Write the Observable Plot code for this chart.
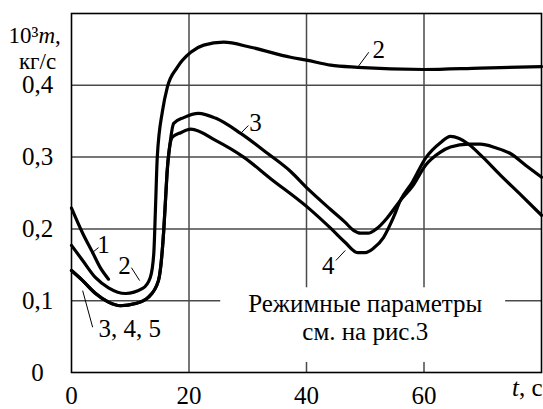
<!DOCTYPE html>
<html>
<head>
<meta charset="utf-8">
<script src="https://cdn.jsdelivr.net/npm/d3@7"></script>
<script src="https://cdn.jsdelivr.net/npm/@observablehq/plot@0.6"></script>
<style>
  html, body { margin: 0; padding: 0; background: #fff; }
  #chart svg { display: block; }
  #chart svg text { font-family: "Liberation Serif", "DejaVu Serif", serif !important; }
</style>
</head>
<body>
<div id="chart"></div>
<script>
// ---- data (t, s  ->  10^3 m, кг/с) ----
const curve1T = [0, 1.9, 3.6, 4.9, 6.3];
const curve1M = [0.229, 0.194, 0.167, 0.146, 0.130];

const curve2T = [0, 1.9, 4.1, 6.3, 9.2, 12.1, 13.4, 14.0, 14.3, 14.6, 15.5, 16.3, 18.0, 20.3, 22.5, 25.9, 30.5, 37.3, 40, 44.1, 48.7, 60, 69.6, 80];
const curve2M = [0.177, 0.156, 0.132, 0.118, 0.110, 0.117, 0.132, 0.165, 0.230, 0.300, 0.365, 0.397, 0.425, 0.446, 0.456, 0.460, 0.453, 0.439, 0.435, 0.428, 0.425, 0.422, 0.424, 0.426];

// common start of curves 3, 4, 5
const sharedT = [0, 1.9, 4.1, 6.3, 8.3, 10.9, 13.1, 14.8, 15.7, 16.0, 16.3, 16.7];
const sharedM = [0.142, 0.128, 0.110, 0.098, 0.093, 0.096, 0.105, 0.128, 0.198, 0.240, 0.282, 0.314];

const curve3T = [17.4, 19.1, 21.6, 24.6, 28.8, 33.4, 37.3, 40.2, 44.1, 46.6, 48.0, 49.2, 50.5, 51.9, 53.8, 56.0, 58.0, 60.3, 62.8, 64.5, 67.6, 69.6, 72.2, 74.7, 77.4, 80];
const curve3M = [0.347, 0.355, 0.361, 0.354, 0.333, 0.305, 0.280, 0.256, 0.227, 0.209, 0.198, 0.194, 0.194, 0.200, 0.216, 0.240, 0.259, 0.289, 0.307, 0.314, 0.318, 0.318, 0.313, 0.305, 0.288, 0.272];

const curve4T = [17.2, 18.6, 20.3, 24.6, 29.3, 33.9, 40.2, 44.1, 46.6, 48.7, 50.0, 51.4, 53.1, 54.8, 56.0, 58.0, 60.3, 62.8, 64.5, 66.0, 67.6, 70.0, 73.0, 76.4, 80];
const curve4M = [0.328, 0.334, 0.339, 0.323, 0.300, 0.270, 0.230, 0.201, 0.181, 0.167, 0.167, 0.173, 0.188, 0.216, 0.240, 0.265, 0.299, 0.320, 0.329, 0.326, 0.318, 0.300, 0.275, 0.248, 0.219];

const xTicks = [0, 20, 40, 60];
const yTicks = [0, 0.1, 0.2, 0.3, 0.4];
const yTickLabels = ["0", "0,1", "0,2", "0,3", "0,4"];
const xGrid = [20, 40, 60];
const yGrid = [0.1, 0.2, 0.3, 0.4];

// curve labels: text, anchor point, leader line
const labelText = ["1", "2", "2", "3", "4", "3, 4, 5"];
const labelT = [5.45, 9.0, 52.3, 31.3, 43.7, 9.9];
const labelM = [0.177, 0.148, 0.449, 0.348, 0.149, 0.060];
const leaderT1 = [3.4, 10.2, 48.7, 28.8, 45.0, 1.9];
const leaderM1 = [0.166, 0.146, 0.425, 0.333, 0.156, 0.114];
const leaderT2 = [4.6, 11.6, 50.6, 30.1, 46.6, 3.6];
const leaderM2 = [0.174, 0.128, 0.446, 0.344, 0.170, 0.063];

const noteText = "Режимные параметры\nсм. на рис.3";
const noteT = 50, noteM = 0.077;
const noteBox = {x1: 25.4, x2: 73.9, y1: 0.014, y2: 0.118};

const xLabel = "t, с";
const yLabel1 = "10³m,";
const yLabel2 = "кг/с";

// ---- build tables ----
const rows = [];
const add = (name, T, M) => T.forEach((t, i) => rows.push({series: name, t, m: M[i]}));
add("1", curve1T, curve1M);
add("2", curve2T, curve2M);
add("3", sharedT.concat(curve3T), sharedM.concat(curve3M));
add("4", sharedT.concat(curve4T), sharedM.concat(curve4M));

const labels = labelText.map((s, i) => ({s, t: labelT[i], m: labelM[i]}));
const leaders = labelText.map((s, i) => ({t1: leaderT1[i], m1: leaderM1[i], t2: leaderT2[i], m2: leaderM2[i]}));

const FONT = "Liberation Serif";
const gridColor = "#4a4a4a";

const chart = Plot.plot({
  width: 543,
  height: 409,
  marginLeft: 71,
  marginRight: 2,
  marginTop: 13,
  marginBottom: 37,
  style: {fontSize: "25px", background: "#fff", color: "#000", overflow: "visible"},
  x: {domain: [0, 80]},
  y: {domain: [0, 0.5]},
  marks: [
    Plot.gridX(xGrid, {stroke: gridColor, strokeOpacity: 1, strokeWidth: 1.5}),
    Plot.gridY(yGrid, {stroke: gridColor, strokeOpacity: 1, strokeWidth: 1.5}),
    Plot.rect([noteBox], {x1: "x1", x2: "x2", y1: "y1", y2: "y2", fill: "#fff"}),
    Plot.frame({stroke: "#000", strokeWidth: 1.6}),
    Plot.line(rows, {x: "t", y: "m", z: "series", curve: "monotone-x", stroke: "#000", strokeWidth: 3.2, strokeLinejoin: "round", strokeLinecap: "round"}),
    Plot.link(leaders, {x1: "t1", y1: "m1", x2: "t2", y2: "m2", stroke: "#000", strokeWidth: 1}),
    Plot.text(labels, {x: "t", y: "m", text: "s", fontSize: 25, fontFamily: FONT, fill: "#000"}),
    Plot.text([noteText], {x: noteT, y: noteM, text: d => d, fontSize: 25, fontFamily: FONT, lineHeight: 1.12, fill: "#000"}),
    Plot.axisX(xTicks, {tickSize: 0, tickPadding: 14, fontSize: 25, fontFamily: FONT, tickFormat: d => String(d)}),
    Plot.axisY(yTicks, {tickSize: 0, tickPadding: 34, textAnchor: "middle", fontSize: 25, fontFamily: FONT, tickFormat: (d, i) => yTickLabels[i]}),
    Plot.text([xLabel], {frameAnchor: "bottom-right", dx: 1, dy: 23, textAnchor: "end", fontSize: 25, fontFamily: FONT, className: "xlab"}),
    Plot.text([yLabel1], {frameAnchor: "top-left", dx: -63, dy: 13, textAnchor: "start", fontSize: 23, fontFamily: FONT, className: "ylab1"}),
    Plot.text([yLabel2], {frameAnchor: "top-left", dx: -34, dy: 39, textAnchor: "middle", fontSize: 23, fontFamily: FONT})
  ]
});
document.getElementById("chart").appendChild(chart);

// italic variable letters inside the axis labels
d3.select(chart).selectAll("g.xlab text").each(function () {
  const t = d3.select(this); const s = t.text(); t.text(null);
  t.append("tspan").attr("font-style", "italic").text(s.slice(0, 1));
  t.append("tspan").text(s.slice(1));
});
d3.select(chart).selectAll("g.ylab1 text").each(function () {
  const t = d3.select(this); const s = t.text(); t.text(null);
  t.append("tspan").text(s.slice(0, 3));
  t.append("tspan").attr("font-style", "italic").text(s.slice(3, 4));
  t.append("tspan").text(s.slice(4));
});
</script>
</body>
</html>
